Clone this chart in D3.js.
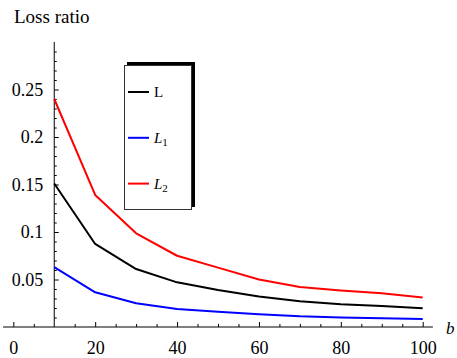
<!DOCTYPE html>
<html>
<head>
<meta charset="utf-8">
<script src="https://cdn.jsdelivr.net/npm/d3@7"></script>
<style>
  body { margin: 0; background: #fff; }
  svg { display: block; }
</style>
</head>
<body>
<svg id="chart"></svg>
<script>
// b values on the x axis
const bValues = [10, 20, 30, 40, 50, 60, 70, 80, 90, 100];

// loss ratio series
const lossL  = [0.151, 0.0874, 0.061, 0.047, 0.039, 0.032, 0.027, 0.024, 0.022, 0.0197];
const lossL1 = [0.063, 0.0365, 0.025, 0.019, 0.016, 0.0135, 0.0113, 0.0101, 0.0092, 0.0084];
const lossL2 = [0.240, 0.139, 0.0986, 0.075, 0.0625, 0.050, 0.042, 0.0385, 0.0355, 0.031];

const xTickLabels = [0, 20, 40, 60, 80, 100];
const yTickLabels = [0.05, 0.1, 0.15, 0.2, 0.25];

const width = 457, height = 358;
const serif = 'Liberation Serif';

const series = [
  { name: "L",  sub: null, italic: false, color: "#000000", values: lossL },
  { name: "L",  sub: "1",  italic: true,  color: "#0000ff", values: lossL1 },
  { name: "L",  sub: "2",  italic: true,  color: "#ff0000", values: lossL2 }
];

const svg = d3.select('#chart')
  .attr('width', width)
  .attr('height', height);

const x = d3.scaleLinear()
  .domain([0, 100])
  .range([13.3, 422.7]);

const y = d3.scaleLinear()
  .domain([0, 0.25])
  .range([327, 89.5]);

// title
svg.append('text')
  .attr('x', 14)
  .attr('y', 23)
  .attr('font-family', serif)
  .attr('font-size', 19)
  .text('Loss ratio');

// x axis line
svg.append('line')
  .attr('x1', x(-2.5))
  .attr('x2', x(102.5))
  .attr('y1', y(0))
  .attr('y2', y(0))
  .attr('stroke', '#000')
  .attr('stroke-width', 1);

// y axis line (crosses at b = 10)
svg.append('line')
  .attr('x1', x(10))
  .attr('x2', x(10))
  .attr('y1', y(0))
  .attr('y2', y(0.3))
  .attr('stroke', '#000')
  .attr('stroke-width', 1);

// minor x ticks
const xMinor = svg.append('g')
  .attr('transform', `translate(0,${y(0)})`)
  .call(d3.axisBottom(x)
    .tickValues(d3.range(0, 101, 5).filter(v => v % 20 !== 0 && v !== 10))
    .tickSize(-3)
    .tickFormat(''));
xMinor.select('.domain').remove();

// major x ticks with labels
const xMajor = svg.append('g')
  .attr('transform', `translate(0,${y(0)})`)
  .call(d3.axisBottom(x)
    .tickValues(xTickLabels)
    .tickSize(-5)
    .tickFormat(d3.format('d')));
xMajor.select('.domain').remove();
xMajor.attr('font-family', null).attr('font-size', null);
xMajor.selectAll('text')
  .attr('y', 27)
  .attr('dy', null)
  .attr('font-family', serif)
  .attr('font-size', 18)
  .attr('fill', '#000');

// minor y ticks
const yMinor = svg.append('g')
  .attr('transform', `translate(${x(10)},0)`)
  .call(d3.axisLeft(y)
    .tickValues(d3.range(1, 30).map(v => v / 100).filter(v => Math.round(v * 100) % 5 !== 0))
    .tickSize(-2.5)
    .tickFormat(''));
yMinor.select('.domain').remove();

// major y ticks with labels
const yMajor = svg.append('g')
  .attr('transform', `translate(${x(10)},0)`)
  .call(d3.axisLeft(y)
    .tickValues(yTickLabels)
    .tickSize(-4.5)
    .tickPadding(11)
    .tickFormat(d => String(d)));
yMajor.select('.domain').remove();
yMajor.attr('font-family', null).attr('font-size', null);
yMajor.selectAll('text')
  .attr('font-family', serif)
  .attr('font-size', 18)
  .attr('fill', '#000');

// x axis name
svg.append('text')
  .attr('x', 446)
  .attr('y', 334)
  .attr('font-family', serif)
  .attr('font-size', 17)
  .attr('font-style', 'italic')
  .text('b');

// lines
const line = d3.line()
  .x((d, i) => x(bValues[i]))
  .y(d => y(d));

svg.append('g')
  .selectAll('path')
  .data(series)
  .join('path')
    .attr('d', d => line(d.values))
    .attr('fill', 'none')
    .attr('stroke', d => d.color)
    .attr('stroke-width', 2)
    .attr('stroke-linejoin', 'round');

// legend
const legend = svg.append('g');

legend.append('rect')
  .attr('x', 127)
  .attr('y', 62)
  .attr('width', 68)
  .attr('height', 145)
  .attr('fill', '#000');

legend.append('rect')
  .attr('x', 124.5)
  .attr('y', 65.5)
  .attr('width', 67)
  .attr('height', 144)
  .attr('fill', '#fff')
  .attr('stroke', '#333')
  .attr('stroke-width', 1);

const legendItems = legend.selectAll('g.item')
  .data(series)
  .join('g')
    .attr('class', 'item')
    .attr('transform', (d, i) => `translate(0,${92 + i * 45.8})`);

legendItems.append('line')
  .attr('x1', 128)
  .attr('x2', 149)
  .attr('stroke', d => d.color)
  .attr('stroke-width', 2);

const legendText = legendItems.append('text')
  .attr('x', 154)
  .attr('y', 5)
  .attr('font-family', serif)
  .attr('font-size', 15);

legendText.append('tspan')
  .attr('font-style', d => d.italic ? 'italic' : 'normal')
  .text(d => d.name);

legendText.filter(d => d.sub)
  .append('tspan')
  .attr('font-size', 11)
  .attr('dy', 3)
  .text(d => d.sub);
</script>
</body>
</html>
